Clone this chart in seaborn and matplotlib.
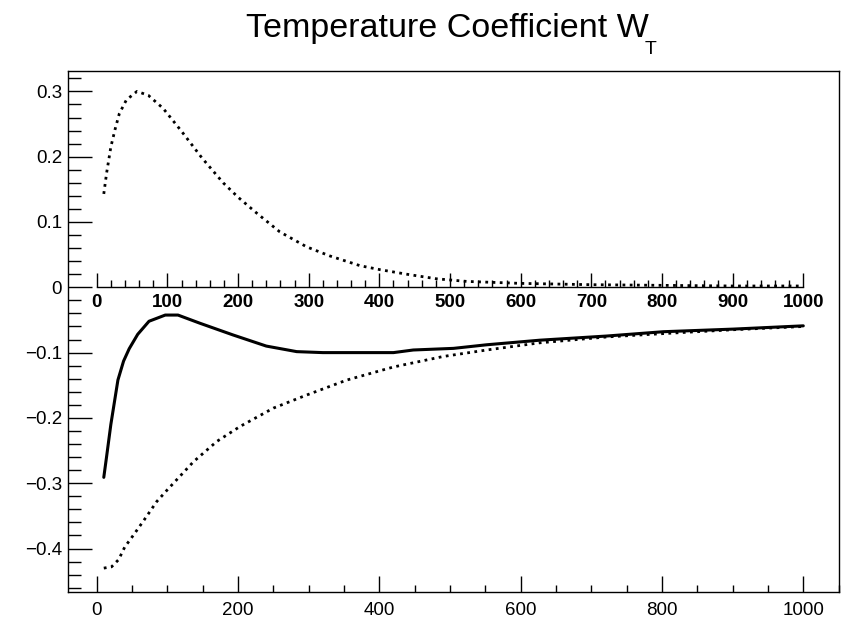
import numpy as np
import pandas as pd
import matplotlib
matplotlib.use('Agg')
import matplotlib.pyplot as plt
import matplotlib.ticker as mticker
import seaborn as sns

# 값은 그림에서 읽은 것
x_pos = [10, 14, 20, 26, 32, 42, 57, 73, 94, 120, 149, 179, 200, 226, 259, 297,
         330, 373, 401, 439, 481, 524, 600, 700, 800, 900, 1000]
w_pos = [0.143, 0.175, 0.215, 0.242, 0.266, 0.287, 0.300, 0.294, 0.274, 0.239,
         0.198, 0.160, 0.138, 0.114, 0.085, 0.062, 0.048, 0.033, 0.027, 0.020,
         0.013, 0.009, 0.006, 0.004, 0.003, 0.002, 0.002]

x_sum = [10, 14, 20, 30, 38, 46, 58, 74, 97, 115, 146, 193, 240, 283, 320, 420,
         448, 505, 552, 627, 722, 802, 901, 1000]
w_sum = [-0.291, -0.259, -0.210, -0.142, -0.113, -0.094, -0.072, -0.052, -0.0425,
         -0.0425, -0.055, -0.073, -0.090, -0.0985, -0.100, -0.100, -0.096, -0.0935,
         -0.088, -0.081, -0.0746, -0.068, -0.064, -0.059]

x_neg = [10, 21, 31, 40, 47, 66, 85, 100, 137, 170, 203, 250, 297, 354, 420, 490,
         552, 627, 722, 816, 900, 1000]
w_neg = [-0.430, -0.428, -0.417, -0.397, -0.387, -0.358, -0.328, -0.310, -0.267,
         -0.236, -0.213, -0.185, -0.165, -0.142, -0.122, -0.106, -0.096, -0.085,
         -0.076, -0.070, -0.065, -0.060]

x_range = (-40.6, 1050.5)
y_range = (-0.4666, 0.3317)

sns.set_style('white', {'text.color': 'black', 'xtick.color': 'black',
                        'ytick.color': 'black', 'axes.edgecolor': 'black'})
plt.rcParams['font.family'] = ['Liberation Sans', 'DejaVu Sans']

df_pos = pd.DataFrame({'x': x_pos, 'w': w_pos})
df_sum = pd.DataFrame({'x': x_sum, 'w': w_sum})
df_neg = pd.DataFrame({'x': x_neg, 'w': w_neg})

fig = plt.figure(figsize=(8.42, 6.19), dpi=100)
ax = fig.add_axes([0.0808, 0.0436, 0.9156, 0.8422])

dot = (0, (1, 1.6))
sns.lineplot(data=df_pos, x='x', y='w', ax=ax, color='black', lw=2, linestyle=dot)
sns.lineplot(data=df_neg, x='x', y='w', ax=ax, color='black', lw=2, linestyle=dot)
sns.lineplot(data=df_sum, x='x', y='w', ax=ax, color='black', lw=2.2)

ax.set_xlim(x_range)
ax.set_ylim(y_range)
ax.set_xlabel('')
ax.set_ylabel('')

for s in ax.spines.values():
    s.set_visible(True)
    s.set_color('black')
    s.set_linewidth(1.0)

ax.xaxis.set_major_locator(mticker.MultipleLocator(200))
ax.xaxis.set_minor_locator(mticker.MultipleLocator(50))
ax.yaxis.set_major_locator(mticker.MultipleLocator(0.1))
ax.yaxis.set_minor_locator(mticker.MultipleLocator(0.02))


def fmt(v, pos):
    v = round(v, 3) + 0.0
    return f'{v:g}'.replace('-', '\u2212')


ax.yaxis.set_major_formatter(mticker.FuncFormatter(fmt))
ax.tick_params(axis='x', which='both', direction='in', bottom=True, top=False,
               labelsize=13.5, pad=7, colors='black', width=1)
ax.tick_params(axis='x', which='major', length=11.5)
ax.tick_params(axis='x', which='minor', length=5.4)
ax.tick_params(axis='y', which='both', direction='in', left=True, right=False,
               labelsize=13.5, pad=4.3, colors='black', width=1)
ax.tick_params(axis='y', which='major', length=17)
ax.tick_params(axis='y', which='minor', length=9.4)

# y=0 에 그리는 가운데 축 (0 ~ 1000)
ax2 = ax.twiny()
ax2.set_xlim(x_range)
for k in ['top', 'left', 'right']:
    ax2.spines[k].set_visible(False)
ax2.spines['bottom'].set_position(('data', 0))
ax2.spines['bottom'].set_bounds(0, 1000)
ax2.spines['bottom'].set_color('black')
ax2.spines['bottom'].set_linewidth(1.0)
ax2.xaxis.set_ticks_position('bottom')
ax2.xaxis.set_label_position('bottom')
ax2.xaxis.set_major_locator(mticker.FixedLocator(np.arange(0, 1001, 100)))
ax2.xaxis.set_minor_locator(mticker.FixedLocator(np.arange(0, 1001, 20)))
ax2.tick_params(axis='x', which='both', direction='in', labelsize=13.5, pad=4.5,
                colors='black', width=1)
ax2.tick_params(axis='x', which='major', length=10)
ax2.tick_params(axis='x', which='minor', length=5)
for t in ax2.get_xticklabels():
    t.set_fontweight('bold')

fig.text(246 / 842, 1 - 37 / 619, 'Temperature Coefficient W', fontsize=24.5,
         ha='left', va='baseline', color='black')
fig.text(645 / 842, 1 - 54 / 619, 'T', fontsize=14, ha='left', va='baseline',
         color='black')

fig.savefig('out.png', dpi=100)
